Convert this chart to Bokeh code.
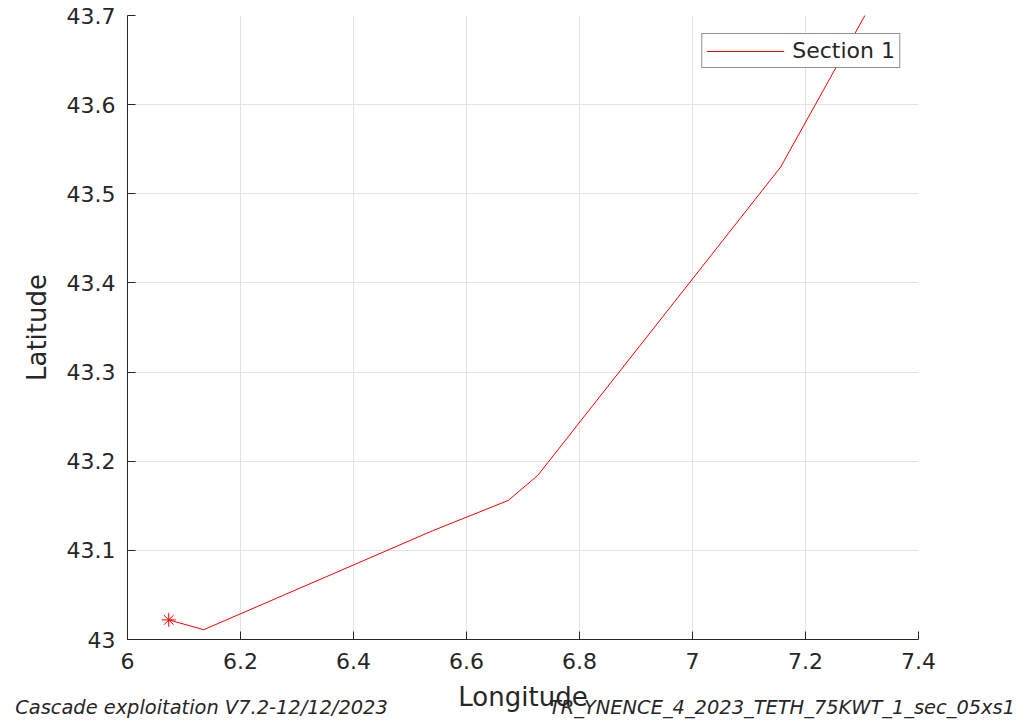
from bokeh.plotting import figure
from bokeh.models import Range1d, FixedTicker, Legend, LegendItem, LinearAxis
from bokeh.embed import file_html
from bokeh.resources import INLINE

# Data
lon = [6.073, 6.135, 6.540, 6.674, 6.726, 7.156, 7.349]
lat = [43.022, 43.011, 43.122, 43.156, 43.184, 43.530, 43.750]
start_lon = [6.073]
start_lat = [43.022]

x_ticks = [6.0, 6.2, 6.4, 6.6, 6.8, 7.0, 7.2, 7.4]
x_tick_labels = ["6", "6.2", "6.4", "6.6", "6.8", "7", "7.2", "7.4"]
y_ticks = [43.0, 43.1, 43.2, 43.3, 43.4, 43.5, 43.6, 43.7]
y_tick_labels = ["43", "43.1", "43.2", "43.3", "43.4", "43.5", "43.6", "43.7"]

footer_left = "Cascade exploitation V7.2-12/12/2023"
footer_right = "TR_YNENCE_4_2023_TETH_75KWT_1_sec_05xs1"

FONT = "DejaVu Sans"
DARK = "#262626"

p = figure(width=1032, height=722, output_backend="svg", toolbar_location=None,
           x_range=Range1d(6.0, 7.4), y_range=Range1d(43.0, 43.7),
           min_border_left=127, min_border_right=114, min_border_top=15, min_border_bottom=83)
p.outline_line_color = None
p.background_fill_color = "white"

line = p.line(lon, lat, line_color="red", line_width=1)
p.scatter(start_lon, start_lat, marker="asterisk", size=14, line_color="red", line_width=1)

for ax, ticks, labels in ((p.xaxis[0], x_ticks, x_tick_labels), (p.yaxis[0], y_ticks, y_tick_labels)):
    ax.ticker = FixedTicker(ticks=ticks)
    ax.major_label_overrides = {t: l for t, l in zip(ticks, labels)}
    ax.major_tick_in = 8
    ax.major_tick_out = 0
    ax.minor_tick_in = 0
    ax.minor_tick_out = 0
    ax.axis_line_color = DARK
    ax.major_tick_line_color = DARK
    ax.major_label_text_font = FONT
    ax.major_label_text_font_size = "22px"
    ax.major_label_text_color = DARK
    ax.axis_label_text_font = FONT
    ax.axis_label_text_font_size = "26px"
    ax.axis_label_text_font_style = "normal"
    ax.axis_label_text_color = DARK

p.xaxis.axis_label = "Longitude"
p.yaxis.axis_label = "Latitude"
p.xaxis.major_label_standoff = 13
p.yaxis.major_label_standoff = 12
p.xaxis.axis_label_standoff = 10
p.yaxis.axis_label_standoff = 12

p.grid.grid_line_color = "#e3e3e3"
p.grid.grid_line_width = 1

legend = Legend(items=[LegendItem(label="Section 1", renderers=[line])],
                location="top_right", margin=18,
                label_text_font=FONT, label_text_font_size="22px", label_text_color=DARK,
                border_line_color=DARK, border_line_width=1, background_fill_alpha=1,
                glyph_width=78, glyph_height=20, label_height=20, padding=4,
                label_standoff=8, spacing=0)
p.add_layout(legend)

# footer texts placed outside the frame through an extra, invisible bottom axis
left_center = 6.0 + (201 - 127) / 565.0
right_center = 6.0 + (781.5 - 127) / 565.0
footer_axis = LinearAxis(ticker=FixedTicker(ticks=[left_center, right_center]),
                         major_label_overrides={left_center: footer_left, right_center: footer_right},
                         axis_line_color=None, major_tick_line_color=None,
                         minor_tick_line_color=None,
                         major_label_text_font=FONT, major_label_text_font_size="19.4px",
                         major_label_text_font_style="italic", major_label_text_color=DARK,
                         major_label_standoff=-25)
p.add_layout(footer_axis, "below")

open("out.html", "w").write(file_html(p, INLINE))
